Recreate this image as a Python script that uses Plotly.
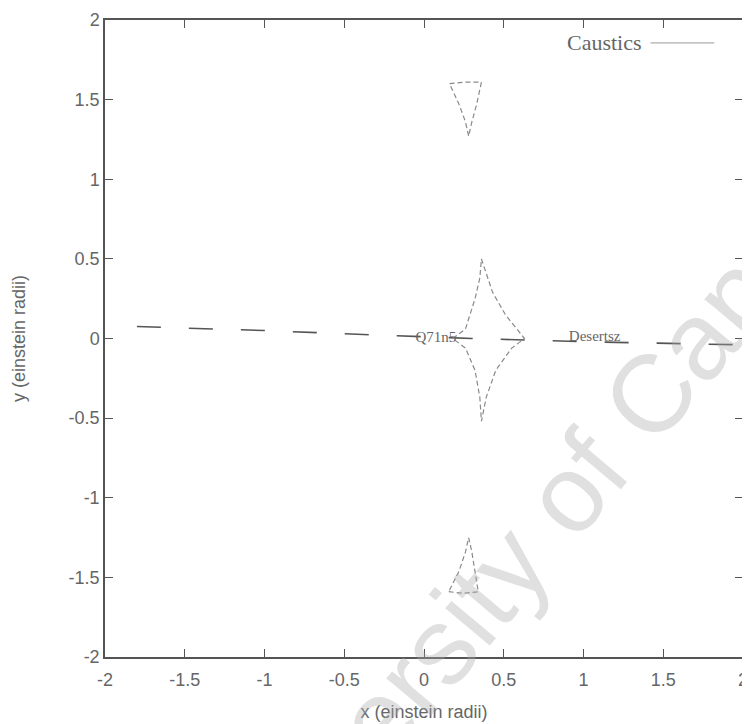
import plotly.graph_objects as go

# ---- data ----
# central caustic (closed concave diamond)
central_x = [0.18, 0.26, 0.32, 0.35, 0.36, 0.43, 0.51, 0.61, 0.63, 0.55, 0.45, 0.39, 0.36, 0.35, 0.32, 0.26, 0.18]
central_y = [0.00, 0.06, 0.25, 0.38, 0.50, 0.29, 0.15, 0.03, 0.00, -0.06, -0.20, -0.37, -0.52, -0.37, -0.20, -0.06, 0.00]
# upper small caustic (triangle)
upper_x = [0.16, 0.26, 0.36, 0.33, 0.30, 0.28, 0.26, 0.22, 0.16]
upper_y = [1.60, 1.61, 1.61, 1.47, 1.36, 1.27, 1.36, 1.47, 1.60]
# lower small caustic (triangle)
lower_x = [0.155, 0.25, 0.34, 0.32, 0.30, 0.28, 0.26, 0.22, 0.155]
lower_y = [-1.59, -1.60, -1.59, -1.46, -1.34, -1.25, -1.34, -1.46, -1.59]
# source track (dashed)
track_x = [-1.8, -1.0, -0.38, 0.3, 1.0, 2.0]
track_y = [0.075, 0.05, 0.025, 0.0, -0.02, -0.04]

track_labels = ["Q71n5", "Desertsz"]
track_label_x = [0.075, 1.07]
track_label_y = [0.0, 0.01]

ticks = [-2, -1.5, -1, -0.5, 0, 0.5, 1, 1.5, 2]
tick_text = ["-2", "-1.5", "-1", "-0.5", "0", "0.5", "1", "1.5", "2"]

caus_x = central_x + [None] + upper_x + [None] + lower_x
caus_y = central_y + [None] + upper_y + [None] + lower_y

fig = go.Figure()
fig.add_trace(go.Scatter(x=track_x, y=track_y, mode="lines",
                         line=dict(color="#555555", width=1.6, dash="24px,28px"),
                         showlegend=False, name="track"))
fig.add_trace(go.Scatter(x=caus_x, y=caus_y, mode="lines",
                         line=dict(color="#8a8a8a", width=1.2, dash="5px,3px"),
                         showlegend=False, name="Caustics"))
fig.add_trace(go.Scatter(x=track_label_x, y=track_label_y, mode="text",
                         text=track_labels,
                         textfont=dict(family="Liberation Serif", size=15, color="#666666"),
                         showlegend=False))

axis_common = dict(range=[-2, 2], autorange=False, tickmode="array", tickvals=ticks,
                   ticktext=tick_text, ticks="inside", ticklen=8, tickcolor="#555555",
                   showline=True, linecolor="#555555", linewidth=1.5, mirror="ticks",
                   showgrid=False, zeroline=False, ticklabeloverflow="allow",
                   tickfont=dict(family="Liberation Sans", size=18, color="#666666"))

fig.update_layout(
    width=742, height=716,
    margin=dict(l=97, r=2, t=9, b=67),
    plot_bgcolor="white", paper_bgcolor="white",
    xaxis=dict(**axis_common, ticklabelstandoff=6,
               title=dict(text="x (einstein radii)", standoff=16,
                          font=dict(family="Liberation Sans", size=18, color="#666666"))),
    yaxis=dict(**axis_common,
               title=dict(text="y (einstein radii)", standoff=38,
                          font=dict(family="Liberation Sans", size=18, color="#666666"))),
    showlegend=False,
)

# gnuplot-style legend key: text then line sample
fig.add_annotation(xref="paper", yref="paper", x=0.845, y=0.964, xanchor="right", yanchor="middle",
                   text="Caustics", showarrow=False,
                   font=dict(family="Liberation Serif", size=22, color="#666666"))
fig.add_shape(type="line", xref="paper", yref="paper", x0=0.855, x1=0.955, y0=0.964, y1=0.964,
              line=dict(color="#999999", width=1))

# watermark
fig.add_annotation(xref="paper", yref="paper", x=0.77, y=0.312, xanchor="center", yanchor="middle",
                   text="University of Cape Town", showarrow=False, textangle=-50,
                   font=dict(family="Liberation Sans", size=110, color="rgba(170,170,170,0.36)"))

fig.write_html("out.html")
